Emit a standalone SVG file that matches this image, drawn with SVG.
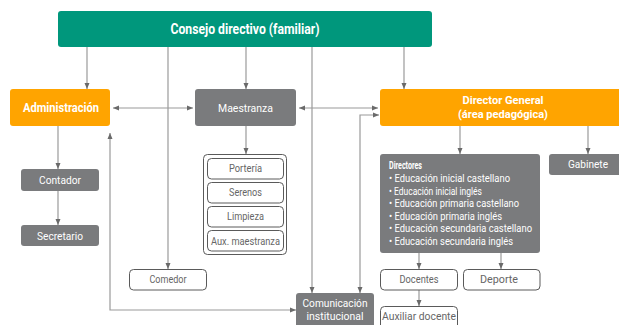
<svg xmlns="http://www.w3.org/2000/svg" width="619" height="325" viewBox="0 0 619 325">
<style>
text{font-family:Roboto,"Liberation Sans",sans-serif;text-anchor:middle}
.w{fill:#fff}
.d{fill:#666}
.b{font-weight:bold}
.teal{fill:#00977c}
.org{fill:#ffa400}
.gry{fill:#7a7b7d}
.out{fill:#fff;stroke:#5a5a5a;stroke-width:1}
.c path{fill:none;stroke:#9a9a9a;stroke-width:1.2}
.bl{text-anchor:start;font-size:10px;fill:#fff}
</style>
<defs>
<marker id="a" viewBox="0 0 6 6" refX="6" refY="3" markerWidth="6" markerHeight="6" markerUnits="userSpaceOnUse" orient="auto-start-reverse">
<path d="M0 0.5 L6 3 L0 5.5 Z" fill="#6a6a6a"/>
</marker>
</defs>
<g class="c">
<path d="M87 47 V89" marker-end="url(#a)"/>
<path d="M246 47 V89" marker-end="url(#a)"/>
<path d="M404 47 V89" marker-end="url(#a)"/>
<path d="M168 47 V269" marker-end="url(#a)"/>
<path d="M312 47 V293" marker-end="url(#a)"/>
<path d="M113 108 H193" marker-start="url(#a)" marker-end="url(#a)"/>
<path d="M299 108 H378" marker-start="url(#a)" marker-end="url(#a)"/>
<path d="M110 133 V310 H296" marker-start="url(#a)" marker-end="url(#a)"/>
<path d="M360 293 V115 H379" marker-start="url(#a)" marker-end="url(#a)"/>
<path d="M58 126 V169" marker-end="url(#a)"/>
<path d="M58 191 V225" marker-end="url(#a)"/>
<path d="M246 126 V154" marker-end="url(#a)"/>
<path d="M460 126 V154" marker-end="url(#a)"/>
<path d="M588 126 V154" marker-end="url(#a)"/>
<path d="M419 253 V269" marker-end="url(#a)"/>
<path d="M501 253 V269" marker-end="url(#a)"/>
<path d="M419 290 V306" marker-end="url(#a)"/>
</g>
<g id="consejo">
<rect class="teal" x="58" y="11" width="374" height="36" rx="3"/>
<text class="w b" x="245" y="34" font-size="14" textLength="149" lengthAdjust="spacingAndGlyphs">Consejo directivo (familiar)</text>
</g>
<g id="administracion">
<rect class="org" x="10" y="89" width="100" height="37" rx="3"/>
<text class="w b" x="61" y="112" font-size="12.5" textLength="76" lengthAdjust="spacingAndGlyphs">Administración</text>
</g>
<g id="maestranza">
<rect class="gry" x="195" y="89" width="101" height="37" rx="3"/>
<text class="w" x="245.5" y="112" font-size="11.5" textLength="55" lengthAdjust="spacingAndGlyphs">Maestranza</text>
</g>
<g id="director">
<rect class="org" x="380" y="89" width="250" height="37" rx="3"/>
<text class="w b" x="503" y="104" font-size="11.5" textLength="81" lengthAdjust="spacingAndGlyphs">Director General</text>
<text class="w b" x="503" y="118" font-size="11.5" textLength="90" lengthAdjust="spacingAndGlyphs">(área pedagógica)</text>
</g>
<g id="contador">
<rect class="gry" x="21" y="169" width="78" height="22" rx="3"/>
<text class="w" x="60" y="184" font-size="11" textLength="42" lengthAdjust="spacingAndGlyphs">Contador</text>
</g>
<g id="secretario">
<rect class="gry" x="21" y="225" width="78" height="21" rx="3"/>
<text class="w" x="60" y="239.5" font-size="11" textLength="46" lengthAdjust="spacingAndGlyphs">Secretario</text>
</g>
<g id="maestranza-lista">
<rect class="out" x="203.5" y="154.5" width="83" height="100" rx="4"/>
<rect class="out" x="207.5" y="158.5" width="76" height="20.5" rx="4"/>
<text class="d" x="245.5" y="172" font-size="10.5" textLength="33" lengthAdjust="spacingAndGlyphs">Portería</text>
<rect class="out" x="207.5" y="182.5" width="76" height="20.5" rx="4"/>
<text class="d" x="245.5" y="196" font-size="10.5" textLength="33" lengthAdjust="spacingAndGlyphs">Serenos</text>
<rect class="out" x="207.5" y="206.5" width="76" height="20.5" rx="4"/>
<text class="d" x="245.5" y="220" font-size="10.5" textLength="37" lengthAdjust="spacingAndGlyphs">Limpieza</text>
<rect class="out" x="207.5" y="230.5" width="76" height="20.5" rx="4"/>
<text class="d" x="245.5" y="244.5" font-size="10.5" textLength="69" lengthAdjust="spacingAndGlyphs">Aux. maestranza</text>
</g>
<g id="comedor">
<rect class="out" x="129.5" y="269.5" width="77" height="20.5" rx="4"/>
<text class="d" x="168" y="283" font-size="10.5" textLength="37" lengthAdjust="spacingAndGlyphs">Comedor</text>
</g>
<g id="comunicacion">
<rect class="gry" x="296" y="293" width="78" height="40" rx="3"/>
<text class="w" x="335" y="307" font-size="11.5" textLength="65" lengthAdjust="spacingAndGlyphs">Comunicación</text>
<text class="w" x="335" y="320" font-size="11.5" textLength="57" lengthAdjust="spacingAndGlyphs">institucional</text>
</g>
<g id="directores">
<rect class="gry" x="380" y="154" width="160" height="99" rx="3"/>
<text class="bl b" x="389" y="169" font-size="9.5" textLength="33" lengthAdjust="spacingAndGlyphs">Directores</text>
<text class="bl" x="389" y="182" textLength="121" lengthAdjust="spacingAndGlyphs">• Educación inicial castellano</text>
<text class="bl" x="389" y="194.5" textLength="93" lengthAdjust="spacingAndGlyphs">• Educación inicial inglés</text>
<text class="bl" x="389" y="207" textLength="130" lengthAdjust="spacingAndGlyphs">• Educación primaria castellano</text>
<text class="bl" x="389" y="219.5" textLength="113" lengthAdjust="spacingAndGlyphs">• Educación primaria inglés</text>
<text class="bl" x="389" y="232" textLength="143" lengthAdjust="spacingAndGlyphs">• Educación secundaria castellano</text>
<text class="bl" x="389" y="244.5" textLength="124" lengthAdjust="spacingAndGlyphs">• Educación secundaria inglés</text>
</g>
<g id="gabinete">
<rect class="gry" x="549" y="154" width="80" height="21" rx="3"/>
<text class="w" x="588" y="168" font-size="11" textLength="40" lengthAdjust="spacingAndGlyphs">Gabinete</text>
</g>
<g id="docentes">
<rect class="out" x="380.5" y="269.5" width="77" height="20.5" rx="4"/>
<text class="d" x="419" y="283" font-size="10.5" textLength="39" lengthAdjust="spacingAndGlyphs">Docentes</text>
</g>
<g id="deporte">
<rect class="out" x="463.5" y="269.5" width="76.5" height="20.5" rx="4"/>
<text class="d" x="499" y="283" font-size="10.5" textLength="38" lengthAdjust="spacingAndGlyphs">Deporte</text>
</g>
<g id="auxiliar">
<rect class="out" x="380.5" y="306.5" width="77" height="24" rx="4"/>
<text class="d" x="419" y="319.5" font-size="10.5" textLength="74" lengthAdjust="spacingAndGlyphs">Auxiliar docente</text>
</g>
</svg>
